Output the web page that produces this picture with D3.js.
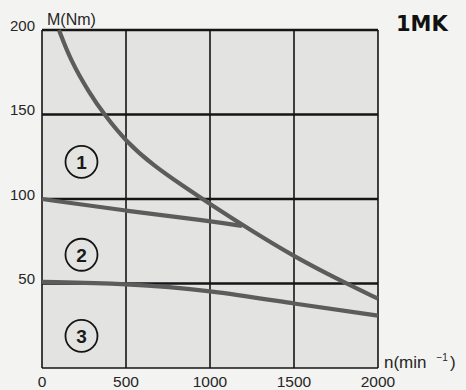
<!DOCTYPE html>
<html><head><meta charset="utf-8">
<script src="https://cdn.jsdelivr.net/npm/d3@7"></script>
<style>html,body{margin:0;padding:0;background:#f3f3f1;}svg{display:block;}</style>
</head><body>
<svg id="c" width="466" height="390"></svg>
<script>
const xTicks = [0, 500, 1000, 1500, 2000];
const yTicks = [50, 100, 150, 200];
const curve1N = [101, 170, 280, 370, 500, 660, 850, 1000, 1250, 1500, 1750, 2000];
const curve1M = [200, 182, 163, 150, 134, 120, 107, 97, 81, 66, 53, 41];
const curve2N = [0, 500, 1000, 1190];
const curve2M = [100, 93, 87, 84];
const curve3N = [0, 500, 1000, 1500, 2000];
const curve3M = [51, 50, 46, 38, 31];
const zones = [{label: "1", n: 235, m: 122}, {label: "2", n: 235, m: 67}, {label: "3", n: 235, m: 19}];

const svg = d3.select("#c");
const x = d3.scaleLinear().domain([0, 2000]).range([42, 378]);
const y = d3.scaleLinear().domain([0, 200]).range([368, 30]);
const font = "'Liberation Sans', Arial, sans-serif";
const ink = "#262626";

svg.append("rect").attr("x", x(0)).attr("y", y(200)).attr("width", x(2000) - x(0)).attr("height", y(0) - y(200)).attr("fill", "#e3e3e1");

svg.append("g").selectAll("line").data(xTicks).join("line")
  .attr("x1", d => x(d)).attr("x2", d => x(d)).attr("y1", y(200)).attr("y2", y(0))
  .attr("stroke", "#151515").attr("stroke-width", 1.6);
svg.append("g").selectAll("line").data([0].concat(yTicks)).join("line")
  .attr("x1", x(0)).attr("x2", x(2000)).attr("y1", d => y(d)).attr("y2", d => y(d))
  .attr("stroke", "#151515").attr("stroke-width", d => d === 0 ? 1.6 : 2.6);

const line = d3.line().x(d => x(d[0])).y(d => y(d[1])).curve(d3.curveBasis);
const curves = [[curve1N, curve1M], [curve2N, curve2M], [curve3N, curve3M]];
svg.append("g").selectAll("path").data(curves).join("path")
  .attr("d", c => line(c[0].map((n, i) => [n, c[1][i]])))
  .attr("fill", "none").attr("stroke", "#5c5c5c").attr("stroke-width", 4.2).attr("stroke-linecap", "butt");

const z = svg.append("g").selectAll("g").data(zones).join("g")
  .attr("transform", d => `translate(${x(d.n)},${y(d.m)})`);
z.append("circle").attr("r", 16).attr("fill", "none").attr("stroke", "#151515").attr("stroke-width", 1.8);
z.append("text").text(d => d.label).attr("text-anchor", "middle").attr("dy", "0.36em")
  .attr("font-family", font).attr("font-size", 19).attr("font-weight", "bold").attr("fill", "#1a1a1a");

svg.append("g").selectAll("text").data(xTicks).join("text")
  .attr("x", d => x(d)).attr("y", 387).attr("text-anchor", "middle")
  .attr("font-family", font).attr("font-size", 15.5).attr("fill", ink).text(d => d);
svg.append("g").selectAll("text").data(yTicks).join("text")
  .attr("x", 35).attr("y", d => y(d) + 0.5).attr("text-anchor", "end")
  .attr("font-family", font).attr("font-size", 15).attr("fill", ink).text(d => d);

svg.append("text").attr("x", 47).attr("y", 25).attr("font-family", font).attr("font-size", 16).attr("fill", ink).text("M(Nm)");
const xl = svg.append("text").attr("x", 384).attr("y", 368).attr("font-family", font).attr("font-size", 17).attr("fill", ink);
xl.append("tspan").text("n(min");
xl.append("tspan").attr("dx", 10).attr("dy", -7).attr("font-size", 10).text("−1");
xl.append("tspan").attr("dx", 2).attr("dy", 7).text(")");
svg.append("text").attr("x", 396).attr("y", 31).attr("font-family", "'DejaVu Sans', sans-serif").attr("font-size", 21).attr("font-weight", "bold").attr("fill", "#111").text("1MK");
</script>
</body></html>
